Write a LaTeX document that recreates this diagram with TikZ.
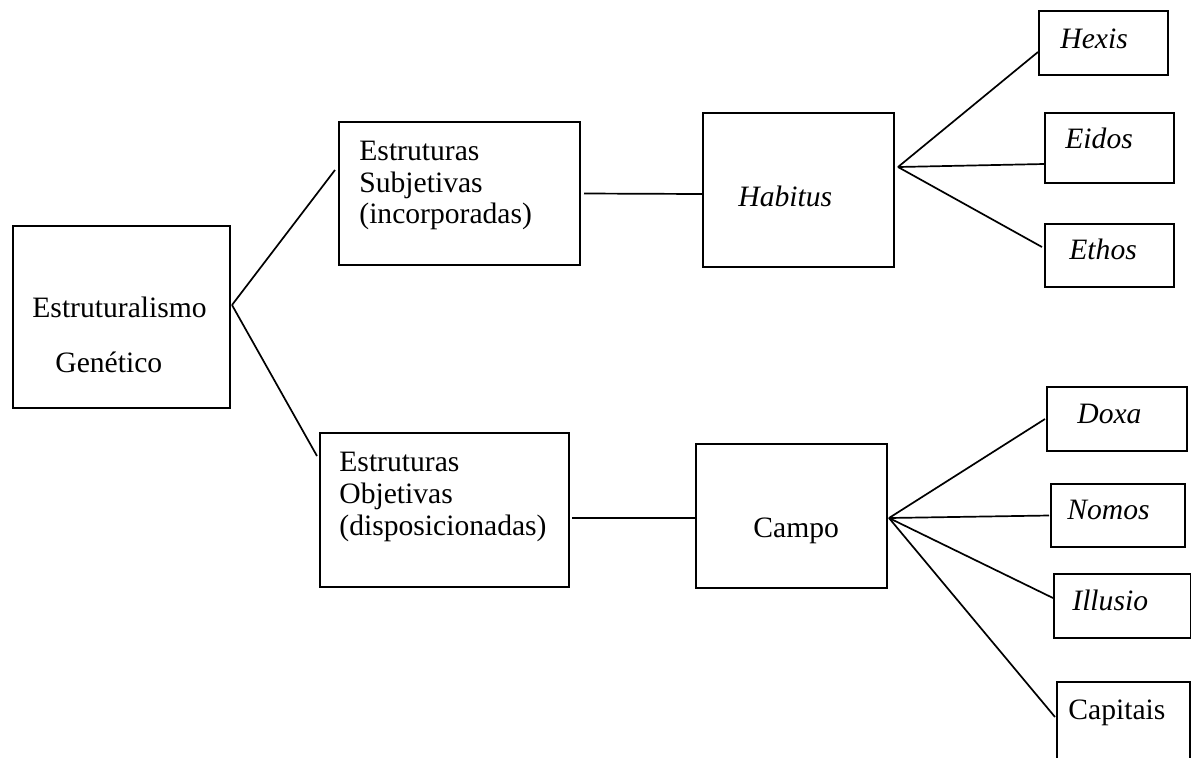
\documentclass[tikz,border=0pt]{standalone}
\usepackage{fontspec}
\setmainfont{Liberation Serif}
\usetikzlibrary{calc}
\begin{document}
\begin{tikzpicture}[x=0.5pt,y=-0.5pt,
  box/.style={draw, line width=1pt, rectangle, inner sep=0pt, anchor=north west},
  lbl/.style={anchor=base west, inner sep=0pt, font=\fontsize{14.8pt}{16pt}\selectfont},
  term/.style={lbl, font=\fontsize{14.8pt}{16pt}\selectfont\itshape},
  link/.style={line width=0.85pt}]
\useasboundingbox[fill=white] (0,0) rectangle (1191,757);

% boxes
\node[box, minimum width=108.5pt, minimum height=91pt]   (gen)    at (12,225)   {};
\node[box, minimum width=120.5pt, minimum height=71.5pt] (sub)    at (338,121)  {};
\node[box, minimum width=124.5pt, minimum height=77pt]   (obj)    at (319,432)  {};
\node[box, minimum width=95.5pt,  minimum height=77pt]   (hab)    at (702,112)  {};
\node[box, minimum width=95.5pt,  minimum height=72pt]   (campo)  at (695,443)  {};
\node[box, minimum width=64.5pt,  minimum height=32pt]   (hexis)  at (1038,10)  {};
\node[box, minimum width=64.5pt,  minimum height=35pt]   (eidos)  at (1044,112) {};
\node[box, minimum width=64.5pt,  minimum height=31.5pt] (ethos)  at (1044,223) {};
\node[box, minimum width=70pt,    minimum height=32pt]   (doxa)   at (1046,386) {};
\node[box, minimum width=67pt,    minimum height=31.5pt] (nomos)  at (1050,483) {};
\node[box, minimum width=68.5pt,  minimum height=32pt]   (illusio) at (1053,573) {};
\node[box, minimum width=66.5pt,  minimum height=55pt]   (capitais) at (1056,681) {};

% labels
\node[lbl] (gen1) at (32,317) {Estruturalismo};
\node[lbl] (gen2) at (55,372) {Genético};
\node[lbl] (sub1) at (359,160) {Estruturas};
\node[lbl] (sub2) at (359,192) {Subjetivas};
\node[lbl] (sub3) at (359,223) {(incorporadas)};
\node[lbl] (obj1) at (339,471) {Estruturas};
\node[lbl] (obj2) at (339,503) {Objetivas};
\node[lbl] (obj3) at (339,535) {(disposicionadas)};
\node[term] (habt) at (738,206) {Habitus};
\node[lbl] (campot) at (753,537) {Campo};
\node[term] (hexist) at (1060,48) {Hexis};
\node[term] (eidost) at (1065,148) {Eidos};
\node[term] (ethost) at (1069,259) {Ethos};
\node[term] (doxat) at (1077,423) {Doxa};
\node[term] (nomost) at (1067,519) {Nomos};
\node[term] (illusiot) at (1072,610) {Illusio};
\node[lbl] (capitaist) at (1068,719) {Capitais};

% connectors
\coordinate (gfork) at ($(gen.east)+(1,-12)$);
\coordinate (hfork) at ($(hab.east)+(3,-23)$);
\coordinate (cfork) at ($(campo.east)+(1,2)$);

\draw[link] (gfork) -- ($(sub.west)+(-3,-23.5)$);
\draw[link] (gfork) -- ($(obj.west)+(-2,-54)$);
\draw[link] ($(sub.east)+(3,0)$) -- ($(hab.west)+(0,4)$);
\draw[link] ($(obj.east)+(2,8)$) -- ($(campo.west)+(0,2)$);

\draw[link] (hfork) -- ($(hexis.west)+(0,9)$);
\draw[link] (hfork) -- ($(eidos.west)+(0,16)$);
\draw[link] (hfork) -- ($(ethos.west)+(-2,-8.5)$);

\draw[link] (cfork) -- ($(doxa.west)+(-1,0)$);
\draw[link] (cfork) -- ($(nomos.west)+(-1,0)$);
\draw[link] (cfork) -- ($(illusio.west)+(0,-8)$);
\draw[link] (cfork) -- ($(capitais.north west)+(-1,36)$);
\end{tikzpicture}
\end{document}
